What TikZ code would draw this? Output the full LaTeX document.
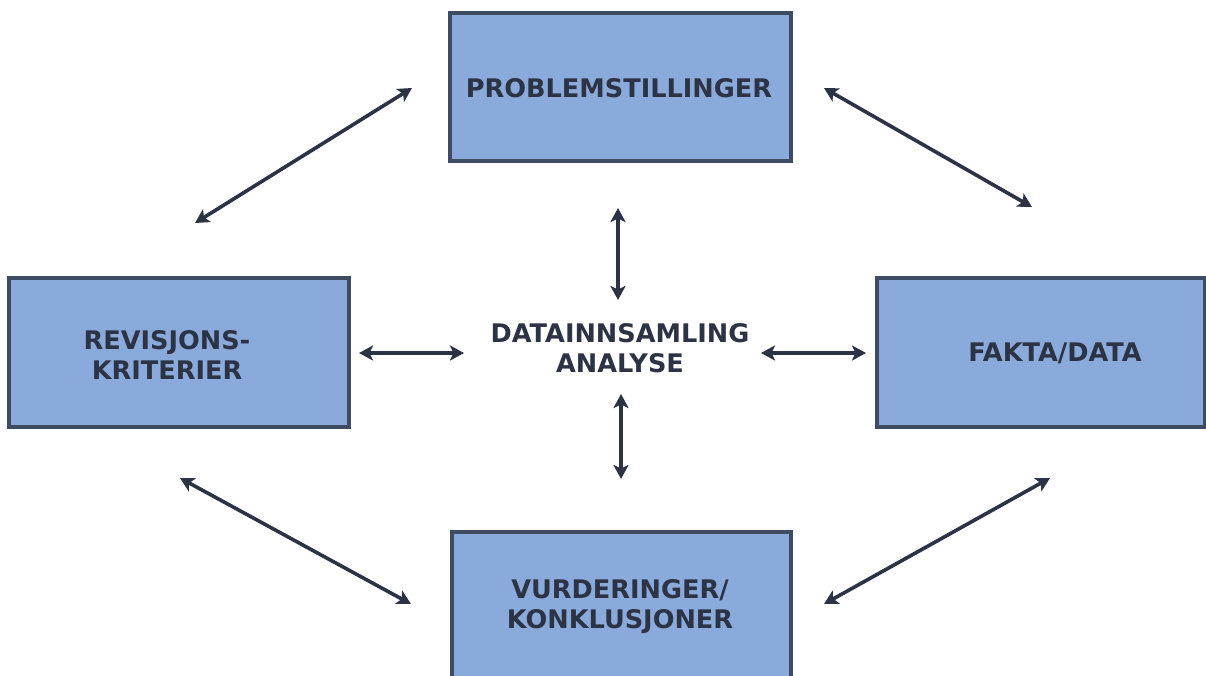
\documentclass[tikz,border=0pt]{standalone}
\usepackage{fontspec}
\setmainfont{DejaVu Sans}
\usetikzlibrary{arrows.meta}
\definecolor{boxfill}{HTML}{8AAADB}
\definecolor{boxline}{HTML}{3D4C63}
\definecolor{ink}{HTML}{2B3345}
\tikzset{
  stagebox/.style={draw=boxline, line width=4pt, fill=boxfill, inner sep=0pt},
  stagetext/.style={text=ink, font=\bfseries\fontsize{25.6}{30}\selectfont, align=center, inner sep=0pt},
  link/.style={ink, line width=3.6pt, {Stealth[length=14pt,width=15pt,inset=3.5pt]}-{Stealth[length=14pt,width=15pt,inset=3.5pt]}}
}
\begin{document}
\begin{tikzpicture}[x=1pt,y=-1pt]
  \useasboundingbox (0,0) rectangle (1206,675);
  \clip (0,0) rectangle (1206,675);
  \fill[white] (0,0) rectangle (1206,675);

  % boxes
  \node[stagebox, minimum width=341pt, minimum height=148pt] (top) at (620,87) {};
  \node[stagebox, minimum width=340pt, minimum height=149pt] (left) at (179,352.5) {};
  \node[stagebox, minimum width=328pt, minimum height=149pt] (right) at (1041,352.5) {};
  \node[stagebox, minimum width=339pt, minimum height=160pt] (bottom) at (621.5,612) {};

  % labels
  \node[stagetext] (toptext) at (619,88) {PROBLEMSTILLINGER};
  \node[stagetext] (lefttext) at (167,355) {REVISJONS-\\KRITERIER};
  \node[stagetext] (righttext) at (1055,353) {FAKTA/DATA};
  \node[stagetext] (bottomtext) at (620,607) {VURDERINGER/\\KONKLUSJONER};
  \node[stagetext] (centre) at (620,348) {DATAINNSAMLING\\ANALYSE};

  % arrow end points
  \coordinate (tl1) at (195,223);  \coordinate (tl2) at (412,88);
  \coordinate (tr1) at (824,88);   \coordinate (tr2) at (1032,207);
  \coordinate (bl1) at (180,478);  \coordinate (bl2) at (411,604);
  \coordinate (br1) at (824,604);  \coordinate (br2) at (1050,478);
  \coordinate (vu1) at (618,208);  \coordinate (vu2) at (618,300);
  \coordinate (vd1) at (621,394);  \coordinate (vd2) at (621,479);
  \coordinate (hl1) at (359,353);  \coordinate (hl2) at (464,353);
  \coordinate (hr1) at (761,353);  \coordinate (hr2) at (866,353);

  % arrows
  \draw[link] (tl1) -- (tl2);
  \draw[link] (tr1) -- (tr2);
  \draw[link] (bl1) -- (bl2);
  \draw[link] (br1) -- (br2);
  \draw[link] (vu1) -- (vu2);
  \draw[link] (vd1) -- (vd2);
  \draw[link] (hl1) -- (hl2);
  \draw[link] (hr1) -- (hr2);
\end{tikzpicture}
\end{document}
